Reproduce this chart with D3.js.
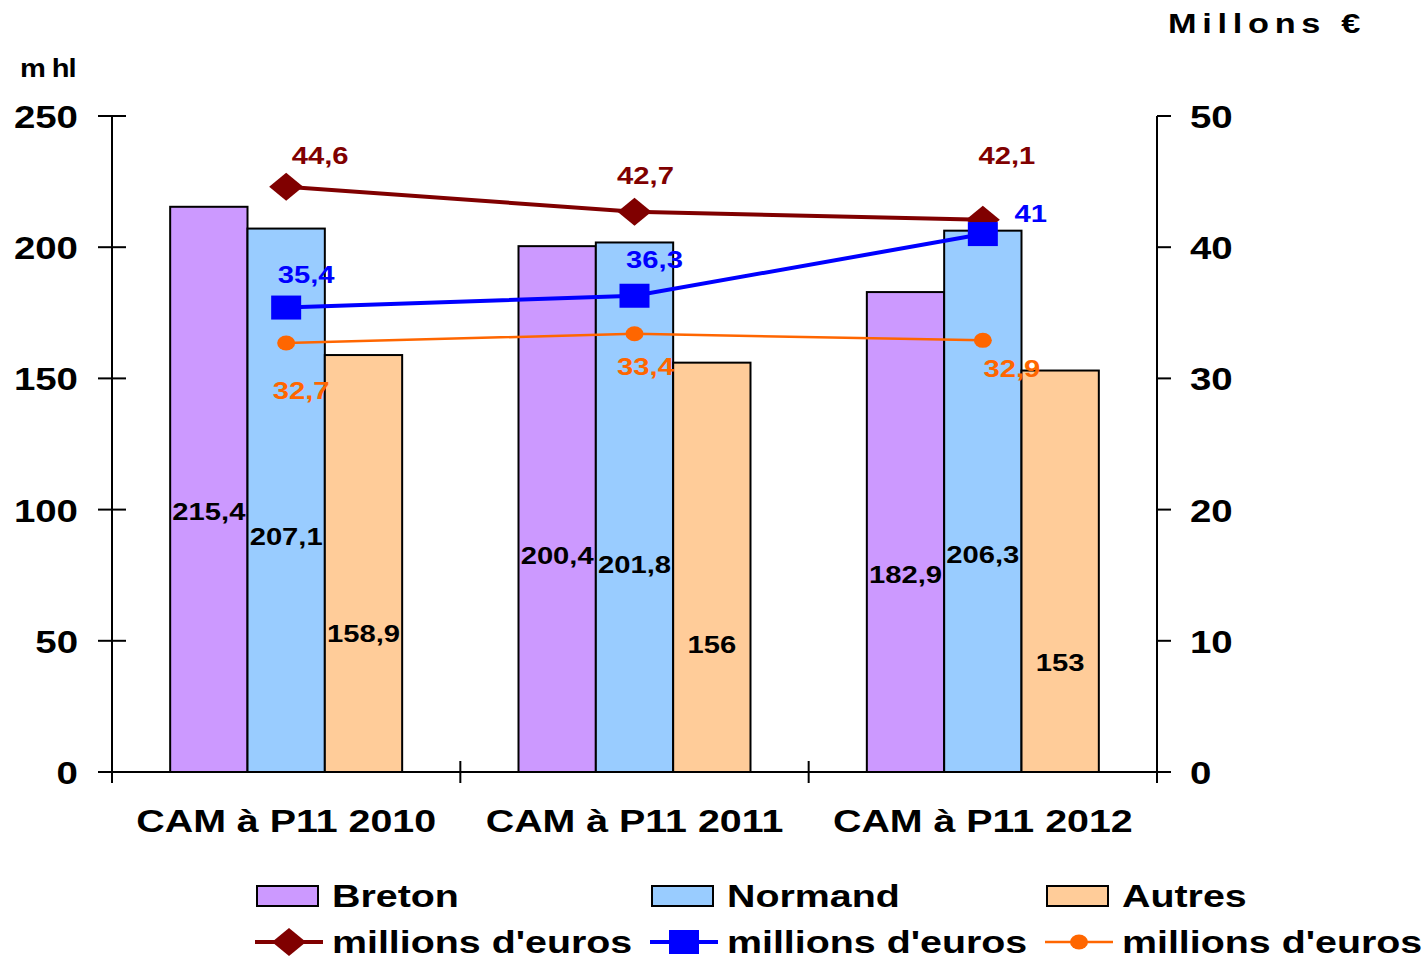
<!DOCTYPE html>
<html>
<head>
<meta charset="utf-8">
<script src="https://cdn.jsdelivr.net/npm/d3@7"></script>
<style>
  body { margin: 0; background: #fff; }
  text { font-family: "Liberation Sans", Arial, sans-serif; font-weight: bold; }
</style>
</head>
<body>
<div id="chart"></div>
<script>
// data
const categories = ["CAM à P11 2010", "CAM à P11 2011", "CAM à P11 2012"];
const barSeries = ["Breton", "Normand", "Autres"];
const breton = [215.4, 200.4, 182.9];
const normand = [207.1, 201.8, 206.3];
const autres = [158.9, 156, 153];
const lineSeries = ["millions d'euros", "millions d'euros", "millions d'euros"];
const euroBreton = [44.6, 42.7, 42.1];
const euroNormand = [35.4, 36.3, 41];
const euroAutres = [32.7, 33.4, 32.9];
const leftTicks = [0, 50, 100, 150, 200, 250];
const rightTicks = [0, 10, 20, 30, 40, 50];

// label placement (fraction of bar height / pixel offsets from point)
const barLabelFrac = [[0.46, 0.41, 0.41], [0.433, 0.39, 0.40], [0.33, 0.31, 0.27]];
const lineLabelOffset = [
  [[34, -31], [11, -36], [24, -64]],
  [[20, -32], [20, -36], [48, -20]],
  [[15, 48], [11, 33], [29, 29]]
];

const W = 1425, H = 959;
const SX = 1.27; // horizontal stretch of the original rendering
const barColors = ["#CC99FF", "#99CCFF", "#FFCC99"];
const lineColors = ["#800000", "#0000FF", "#FF6600"];

const svg = d3.select("#chart").append("svg")
  .attr("width", W).attr("height", H);

const y = d3.scaleLinear().domain([0, 250]).range([772, 116]);
const y2 = d3.scaleLinear().domain([0, 50]).range([772, 116]);
const x0 = d3.scaleBand().domain(categories).range([112, 1157])
  .paddingInner(0.334).paddingOuter(0.167);
const x1 = d3.scaleBand().domain(barSeries).range([0, x0.bandwidth()]);
const step = x0.step();

function label(g, x, yy, txt, size, color, anchor, spacing, sx) {
  return g.append("text")
    .attr("transform", `translate(${x},${yy}) scale(${sx || SX},1)`)
    .attr("text-anchor", anchor || "middle")
    .attr("dominant-baseline", "central")
    .attr("font-size", size)
    .attr("letter-spacing", spacing || 0)
    .attr("fill", color || "#000")
    .text(txt);
}

// bars
const barData = [breton, normand, autres];
categories.forEach((c, i) => {
  barSeries.forEach((s, j) => {
    const v = barData[j][i];
    svg.append("rect")
      .attr("x", x0(c) + x1(s))
      .attr("y", y(v))
      .attr("width", x1.bandwidth())
      .attr("height", y(0) - y(v))
      .attr("fill", barColors[j])
      .attr("stroke", "#000")
      .attr("stroke-width", 2);
  });
});

// axes
const ax = svg.append("g").attr("stroke", "#000").attr("stroke-width", 2);
ax.append("line").attr("x1", 112).attr("x2", 112).attr("y1", y(250)).attr("y2", 783);
ax.append("line").attr("x1", 1157).attr("x2", 1157).attr("y1", y(250)).attr("y2", 783);
ax.append("line").attr("x1", 98).attr("x2", 1171).attr("y1", y(0)).attr("y2", y(0));
leftTicks.forEach(t => {
  ax.append("line").attr("x1", 98).attr("x2", 126).attr("y1", y(t)).attr("y2", y(t));
  label(svg, 78, y(t) + 1, String(t), 31, "#000", "end", 0, 1.24);
});
rightTicks.forEach(t => {
  ax.append("line").attr("x1", 1157).attr("x2", 1171).attr("y1", y2(t)).attr("y2", y2(t));
  label(svg, 1190, y2(t) + 1, String(t), 31, "#000", "start", 0, 1.24);
});
d3.range(categories.length + 1).forEach(i => {
  const xx = 112 + i * step;
  ax.append("line").attr("x1", xx).attr("x2", xx).attr("y1", 761).attr("y2", 783);
});
categories.forEach(c => {
  label(svg, x0(c) + x0.bandwidth() / 2, 822, c, 31, "#000", "middle");
});

// axis titles
label(svg, 20, 68, "m hl", 26, "#000", "start", -1, 1.12);
label(svg, 1168, 24, "Millons €", 27, "#000", "start", 4.5);

// bar value labels
categories.forEach((c, i) => {
  barSeries.forEach((s, j) => {
    const v = barData[j][i];
    const t = String(v).replace(".", ",");
    label(svg, x0(c) + x1(s) + x1.bandwidth() / 2, y(v * barLabelFrac[j][i]), t, 23, "#000", "middle");
  });
});

// lines
const lineData = [euroBreton, euroNormand, euroAutres];
const lineW = [4, 4, 2.5];
const cx = c => x0(c) + x0.bandwidth() / 2;

function marker(g, k, px, py) {
  if (k === 0) {
    g.append("path")
      .attr("d", `M${px - 17},${py} L${px},${py - 14} L${px + 17},${py} L${px},${py + 14} Z`)
      .attr("fill", lineColors[0]);
  } else if (k === 1) {
    g.append("rect").attr("x", px - 15).attr("y", py - 12).attr("width", 30).attr("height", 24)
      .attr("fill", lineColors[1]);
  } else {
    g.append("ellipse").attr("cx", px).attr("cy", py).attr("rx", 9).attr("ry", 7.5)
      .attr("fill", lineColors[2]);
  }
}

lineData.forEach((vals, k) => {
  const line = d3.line().x((d, i) => cx(categories[i])).y(d => y2(d));
  svg.append("path").datum(vals)
    .attr("d", line)
    .attr("fill", "none")
    .attr("stroke", lineColors[k])
    .attr("stroke-width", lineW[k]);
});
lineData.forEach((vals, k) => {
  vals.forEach((v, i) => {
    marker(svg, k, cx(categories[i]), y2(v));
  });
});
lineData.forEach((vals, k) => {
  vals.forEach((v, i) => {
    const o = lineLabelOffset[k][i];
    label(svg, cx(categories[i]) + o[0], y2(v) + o[1], String(v).replace(".", ","), 23, lineColors[k], "middle");
  });
});

// legend
const legX = [257, 652, 1047];
barSeries.forEach((s, j) => {
  svg.append("rect").attr("x", legX[j]).attr("y", 886).attr("width", 61).attr("height", 20)
    .attr("fill", barColors[j]).attr("stroke", "#000").attr("stroke-width", 2);
  label(svg, legX[j] + 75, 897, s, 31, "#000", "start");
});
lineSeries.forEach((s, k) => {
  const lx = legX[k] - 2;
  svg.append("line").attr("x1", lx).attr("x2", lx + 68).attr("y1", 942).attr("y2", 942)
    .attr("stroke", lineColors[k]).attr("stroke-width", lineW[k]);
  marker(svg, k, lx + 34, 942);
  label(svg, legX[k] + 75, 943, s, 31, "#000", "start");
});
</script>
</body>
</html>
